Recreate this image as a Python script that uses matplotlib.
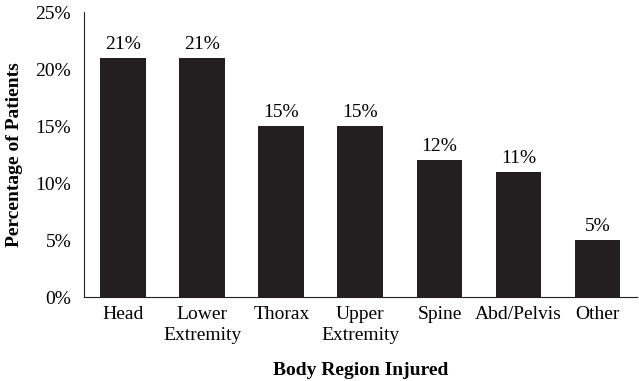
import matplotlib
matplotlib.use("Agg")
import matplotlib.pyplot as plt
from matplotlib.ticker import FuncFormatter

categories = ["Head", "Lower\nExtremity", "Thorax", "Upper\nExtremity", "Spine", "Abd/Pelvis", "Other"]
values = [21, 21, 15, 15, 12, 11, 5]
yticks = [0, 5, 10, 15, 20, 25]

plt.rcParams['font.family'] = ['Liberation Serif', 'DejaVu Serif']

fig = plt.figure(figsize=(6.39, 3.81), dpi=100)
ax = fig.add_axes([0.131, 0.220, 0.866, 0.748])
x = list(range(len(categories)))
ax.bar(x, values, width=0.58, color="#231f20")
for xi, v in zip(x, values):
    ax.text(xi, v + 0.45, f"{v}%", ha="center", va="bottom", fontsize=14)

ax.set_xlim(-0.5, len(categories) - 0.5)
ax.set_ylim(0, 25)
ax.set_yticks(yticks)
ax.yaxis.set_major_formatter(FuncFormatter(lambda v, p: f"{int(v)}%"))
ax.set_xticks(x)
ax.set_xticklabels(categories, fontsize=14, linespacing=1.3, va="top")
ax.tick_params(axis="y", labelsize=14, length=0, pad=9)
ax.tick_params(axis="x", length=0, pad=6.5)
ax.spines["top"].set_visible(False)
ax.spines["right"].set_visible(False)
ax.spines["left"].set_color("#231f20")
ax.spines["bottom"].set_color("#231f20")
ax.set_ylabel("Percentage of Patients", fontsize=14, fontweight="bold", labelpad=9)
ax.set_xlabel("Body Region Injured", fontsize=14, fontweight="bold", labelpad=13)

fig.savefig("out.png", dpi=100)
